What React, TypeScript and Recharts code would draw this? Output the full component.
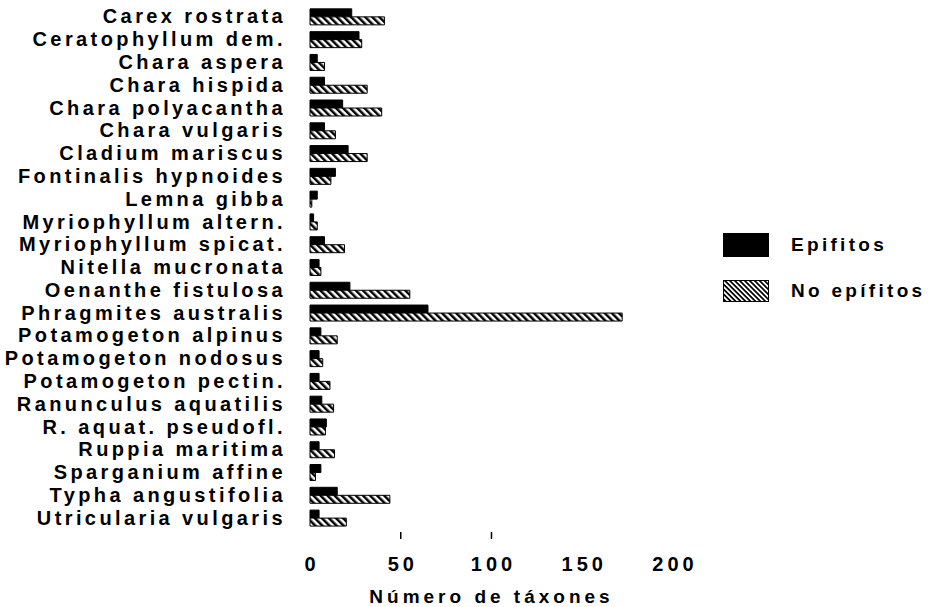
import { BarChart, Bar, XAxis, YAxis, Label } from "recharts";

const species = [
  "Carex rostrata",
  "Ceratophyllum dem.",
  "Chara aspera",
  "Chara hispida",
  "Chara polyacantha",
  "Chara vulgaris",
  "Cladium mariscus",
  "Fontinalis hypnoides",
  "Lemna gibba",
  "Myriophyllum altern.",
  "Myriophyllum spicat.",
  "Nitella mucronata",
  "Oenanthe fistulosa",
  "Phragmites australis",
  "Potamogeton alpinus",
  "Potamogeton nodosus",
  "Potamogeton pectin.",
  "Ranunculus aquatilis",
  "R. aquat. pseudofl.",
  "Ruppia maritima",
  "Sparganium affine",
  "Typha angustifolia",
  "Utricularia vulgaris",
];

const epifitos = [23, 27, 4, 8, 18, 8, 21, 14, 4, 2, 8, 5, 22, 65, 6, 5, 5, 6.5, 9, 5, 6, 15, 5];
const noEpifitos = [41, 28.5, 8, 31.5, 39.5, 14, 31.5, 11.5, 1, 4, 19, 6, 55, 172, 15, 7, 11, 13, 8.5, 13.5, 3, 44, 20];

const xTicks = [0, 50, 100, 150, 200];
const markedTicks = [50, 100];

const chartData = species.map((name, i) => ({
  name,
  epifitos: epifitos[i],
  noEpifitos: noEpifitos[i],
}));

const FONT = '"Liberation Sans", Arial, Helvetica, sans-serif';
const SPACING = 3.4;

const XTick = (props: any) => {
  const { x, y, payload } = props;
  const top = y - 28;
  return (
    <g>
      {markedTicks.includes(payload.value) && (
        <line x1={x} x2={x} y1={top + 3} y2={top + 10} stroke="#000" strokeWidth={1.5} />
      )}
      <text
        x={x}
        y={y}
        dx={2}
        dy="0.71em"
        textAnchor="middle"
        fill="#000"
        fontSize={20}
        fontWeight={700}
        fontFamily={FONT}
        letterSpacing={4}
      >
        {payload.value}
      </text>
    </g>
  );
};

const Hatch = ({ id, size }: { id: string; size: number }) => (
  <pattern
    id={id}
    width={size}
    height={size}
    patternUnits="userSpaceOnUse"
    patternTransform="rotate(-45)"
  >
    <rect width={size} height={size} fill="#fff" />
    <rect width={size / 2} height={size} fill="#000" />
  </pattern>
);

const legendText = {
  fontFamily: FONT,
  fontSize: 19,
  fontWeight: 700,
  letterSpacing: 3.3,
  marginLeft: 22,
};

const App = () => {
  return (
    <div style={{ position: "absolute", left: 0, top: 0, width: 933, height: 607, background: "#fff" }}>
      <BarChart
        width={933}
        height={607}
        data={chartData}
        layout="vertical"
        margin={{ top: 5, right: 260, left: 0, bottom: 0 }}
        barGap={0}
        barCategoryGap="17%"
      >
        <defs>
          <Hatch id="hatch" size={5} />
        </defs>
        <XAxis
          type="number"
          domain={[0, 200]}
          ticks={xTicks}
          axisLine={false}
          tickLine={false}
          tickMargin={22}
          height={78}
          tick={<XTick />}
        >
          <Label
            value="Número de táxones"
            position="insideBottom"
            offset={4}
            style={{ fill: "#000", fontSize: 19, fontWeight: 700, fontFamily: FONT, letterSpacing: 4 }}
          />
        </XAxis>
        <YAxis
          type="category"
          dataKey="name"
          width={310}
          axisLine={false}
          tickLine={false}
          tickMargin={18}
          interval={0}
          tick={{ fill: "#000", fontSize: 20, fontWeight: 700, fontFamily: FONT, letterSpacing: SPACING }}
        />
        <Bar dataKey="epifitos" fill="#000" stroke="#000" strokeWidth={1} isAnimationActive={false} />
        <Bar dataKey="noEpifitos" fill="url(#hatch)" stroke="#000" strokeWidth={1} isAnimationActive={false} />
      </BarChart>
      <div style={{ position: "absolute", left: 723, top: 233 }}>
        <div style={{ display: "flex", alignItems: "center", height: 24 }}>
          <svg width={46} height={24}>
            <rect width={46} height={24} fill="#000" />
          </svg>
          <span style={legendText}>Epifitos</span>
        </div>
        <div style={{ display: "flex", alignItems: "center", height: 24, marginTop: 22 }}>
          <svg width={46} height={22}>
            <defs>
              <Hatch id="hatchLegend" size={3.5} />
            </defs>
            <rect x={0.5} y={0.5} width={45} height={21} fill="url(#hatchLegend)" stroke="#000" />
          </svg>
          <span style={legendText}>No epífitos</span>
        </div>
      </div>
    </div>
  );
};

export default App;
